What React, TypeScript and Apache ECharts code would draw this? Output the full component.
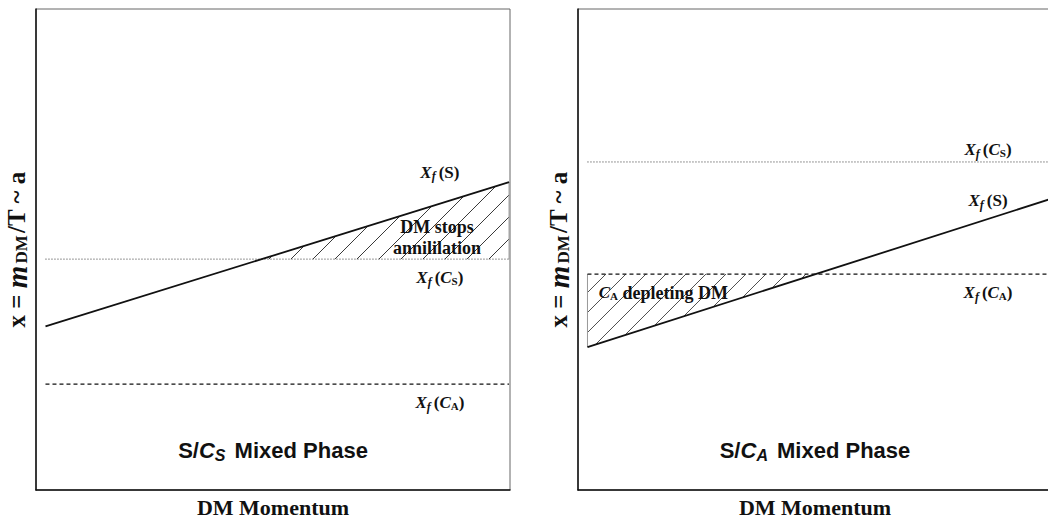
import React, { useEffect, useRef } from "react";
import * as echarts from "echarts";

// ---- data (panel coordinates, 0..100 on both axes) ----
const leftX = [2, 99.8];
const leftS = [34, 64];
const leftCS = [48, 48];
const leftCA = [22, 22];

const rightX = [2, 100];
const rightS = [29.7, 60.6];
const rightCS = [68.2, 68.2];
const rightCA = [44.9, 44.9];

const xAxisTitle = "DM Momentum";
const leftPhase = "{a|S/}{c|C}{ss|S}{a| Mixed Phase}";
const rightPhase = "{a|S/}{c|C}{ss|A}{a| Mixed Phase}";

// label anchors [x, y, text]
const leftLabels: [number, number, string][] = [
  [85.2, 66.1, "{X|X}{f|f}{p|(S)}"],
  [84.6, 52.5, "{b|DM stops}\n{b|annililation}"],
  [85.2, 44.1, "{X|X}{f|f}{p|(}{C|C}{s|S}{p|)}"],
  [85.2, 18.1, "{X|X}{f|f}{p|(}{C|C}{s|A}{p|)}"],
  [50, 8.3, leftPhase],
];
const rightLabels: [number, number, string][] = [
  [86.5, 70.7, "{X|X}{f|f}{p|(}{C|C}{s|S}{p|)}"],
  [86.5, 60.1, "{X|X}{f|f}{p|(S)}"],
  [86.5, 41.0, "{X|X}{f|f}{p|(}{C|C}{s|A}{p|)}"],
  [18.0, 41.0, "{C|C}{s|A}{b| depleting DM}"],
  [50, 8.3, rightPhase],
];

const serif = "'Liberation Serif', 'Times New Roman', serif";
const sans = "'Liberation Sans', Arial, sans-serif";
const ink = "#111";

const richText = {
  X: { fontFamily: serif, fontSize: 17, fontWeight: "bold", fontStyle: "italic", fill: ink },
  f: { fontFamily: serif, fontSize: 12, fontWeight: "bold", fontStyle: "italic", fill: ink, padding: [8, 3, 0, 0] },
  p: { fontFamily: serif, fontSize: 17, fontWeight: "bold", fill: ink },
  C: { fontFamily: serif, fontSize: 17, fontWeight: "bold", fontStyle: "italic", fill: ink },
  s: { fontFamily: serif, fontSize: 11, fontWeight: "bold", fill: ink, padding: [7, 0, 0, 0] },
  b: { fontFamily: serif, fontSize: 18, fontWeight: "bold", fill: ink, lineHeight: 21 },
  a: { fontFamily: sans, fontSize: 22, fontWeight: "bold", fill: ink },
  c: { fontFamily: sans, fontSize: 22, fontWeight: "bold", fontStyle: "italic", fill: ink },
  ss: { fontFamily: sans, fontSize: 16, fontWeight: "bold", fontStyle: "italic", fill: ink, padding: [10, 3, 0, 0] },
};

const richY = {
  b: { fontFamily: serif, fontSize: 25, fontWeight: "bold", color: ink },
  m: { fontFamily: serif, fontSize: 29, fontWeight: "bold", fontStyle: "italic", color: ink },
  d: { fontFamily: serif, fontSize: 17, fontWeight: "bold", color: ink, padding: [9, 2, 0, 2] },
};
const yName = "{b|x = }{m|m}{d|DM}{b|/T ~ a}";

function crossX(xs: number[], ys: number[], level: number) {
  return xs[0] + ((level - ys[0]) * (xs[1] - xs[0])) / (ys[1] - ys[0]);
}

const leftXi = crossX(leftX, leftS, leftCS[0]);
const leftPoly = [
  [leftXi, leftCS[0]],
  [leftX[1], leftS[1]],
  [leftX[1], leftCS[1]],
];
const leftEdge = [
  [leftX[1], leftS[1]],
  [leftX[1], leftCS[1]],
];
const rightXi = crossX(rightX, rightS, rightCA[0]);
const rightPoly = [
  [rightX[0], rightCA[0]],
  [rightXi, rightCA[1]],
  [rightX[0], rightS[0]],
];
const rightEdge = [
  [rightX[0], rightCA[0]],
  [rightX[0], rightS[0]],
];

function hatchRender(poly: number[][], edge: number[][], spacing: number, width: number) {
  return (params: any, api: any) => {
    const pts = poly.map((p) => api.coord(p));
    const sums = pts.map((p: number[]) => p[0] + p[1]);
    const lo = Math.min(...sums);
    const hi = Math.max(...sums);
    const children: any[] = [];
    for (let c = Math.ceil(lo / spacing) * spacing; c <= hi; c += spacing) {
      const hits: number[][] = [];
      for (let i = 0; i < pts.length; i++) {
        const a = pts[i];
        const b = pts[(i + 1) % pts.length];
        const fa = a[0] + a[1] - c;
        const fb = b[0] + b[1] - c;
        if ((fa <= 0 && fb > 0) || (fa > 0 && fb <= 0)) {
          const t = fa / (fa - fb);
          hits.push([a[0] + t * (b[0] - a[0]), a[1] + t * (b[1] - a[1])]);
        }
      }
      if (hits.length >= 2) {
        children.push({
          type: "line",
          shape: { x1: hits[0][0], y1: hits[0][1], x2: hits[1][0], y2: hits[1][1] },
          style: { stroke: "#222", lineWidth: width },
        });
      }
    }
    const e0 = api.coord(edge[0]);
    const e1 = api.coord(edge[1]);
    children.push({
      type: "line",
      shape: { x1: e0[0], y1: e0[1], x2: e1[0], y2: e1[1] },
      style: { stroke: "#999", lineWidth: 1 },
    });
    return { type: "group", children };
  };
}

function textRender(labels: [number, number, string][]) {
  return (params: any, api: any) => {
    const children = labels.map((l) => {
      const p = api.coord([l[0], l[1]]);
      return {
        type: "text",
        x: p[0],
        y: p[1],
        style: {
          text: l[2],
          rich: richText,
          align: "center",
          verticalAlign: "middle",
          fill: ink,
          fontFamily: serif,
          fontWeight: "bold",
          fontSize: 17,
        },
      };
    });
    return { type: "group", children };
  };
}

function pairs(xs: number[], ys: number[]) {
  return xs.map((x, i) => [x, ys[i]]);
}

export default function App() {
  const ref = useRef<HTMLDivElement>(null);
  useEffect(() => {
    if (!ref.current) return;
    const chart = echarts.init(ref.current, undefined, { renderer: "svg" });
    const axisX = (i: number) => ({
      type: "value",
      gridIndex: i,
      min: 0,
      max: 100,
      axisLine: { show: true, lineStyle: { color: ink, width: 1.5 } },
      axisTick: { show: false },
      axisLabel: { show: false },
      splitLine: { show: false },
      name: xAxisTitle,
      nameLocation: "middle",
      nameGap: 17,
      nameTextStyle: { fontFamily: serif, fontSize: 22, lineHeight: 20, fontWeight: "bold", color: ink, verticalAlign: "middle" },
    });
    const axisY = (i: number) => ({
      type: "value",
      gridIndex: i,
      min: 0,
      max: 100,
      axisLine: { show: true, lineStyle: { color: ink, width: 1.5 } },
      axisTick: { show: false },
      axisLabel: { show: false },
      splitLine: { show: false },
      name: yName,
      nameLocation: "middle",
      nameRotate: 90,
      nameGap: 5,
      nameTextStyle: { rich: richY },
    });
    const lineSeries = (i: number, data: number[][], type: any, width: number, color: string, z: number) => ({
      type: "line",
      xAxisIndex: i,
      yAxisIndex: i,
      data,
      showSymbol: false,
      symbol: "none",
      silent: true,
      z,
      lineStyle: { color, width, type },
    });
    const labelSeries = (i: number, labels: [number, number, string][]) => ({
      type: "custom",
      xAxisIndex: i,
      yAxisIndex: i,
      clip: false,
      silent: true,
      z: 10,
      data: [[0, 0]],
      renderItem: textRender(labels),
    });
    chart.setOption({
      animation: false,
      backgroundColor: "#fff",
      grid: [
        { left: 36, top: 9, width: 474, height: 481, show: true, borderColor: "#666", borderWidth: 1, outerBoundsMode: "none", containLabel: false },
        { left: 578, top: 9, width: 474, height: 481, show: true, borderColor: "#666", borderWidth: 1, outerBoundsMode: "none", containLabel: false },
      ],
      xAxis: [axisX(0), axisX(1)],
      yAxis: [axisY(0), axisY(1)],
      series: [
        {
          type: "custom",
          xAxisIndex: 0,
          yAxisIndex: 0,
          clip: false,
          silent: true,
          z: 1,
          data: [[0, 0]],
          renderItem: hatchRender(leftPoly, leftEdge, 22, 0.9),
        },
        {
          type: "custom",
          xAxisIndex: 1,
          yAxisIndex: 1,
          clip: false,
          silent: true,
          z: 1,
          data: [[0, 0]],
          renderItem: hatchRender(rightPoly, rightEdge, 20, 0.8),
        },
        lineSeries(0, pairs(leftX, leftCS), [1, 2], 1, "#333", 3),
        lineSeries(0, pairs(leftX, leftCA), [4, 3], 1.3, ink, 3),
        lineSeries(0, pairs(leftX, leftS), "solid", 1.8, ink, 4),
        lineSeries(1, pairs(rightX, rightCS), [1, 2], 1, "#333", 3),
        lineSeries(1, pairs(rightX, rightCA), [4, 3], 1.3, ink, 3),
        lineSeries(1, pairs(rightX, rightS), "solid", 1.8, ink, 4),
        labelSeries(0, leftLabels),
        labelSeries(1, rightLabels),
      ],
    });
    return () => chart.dispose();
  }, []);
  return (
    <div
      ref={ref}
      style={{ position: "fixed", left: 0, top: 0, width: 1048, height: 519, overflow: "hidden", background: "#fff" }}
    />
  );
}
